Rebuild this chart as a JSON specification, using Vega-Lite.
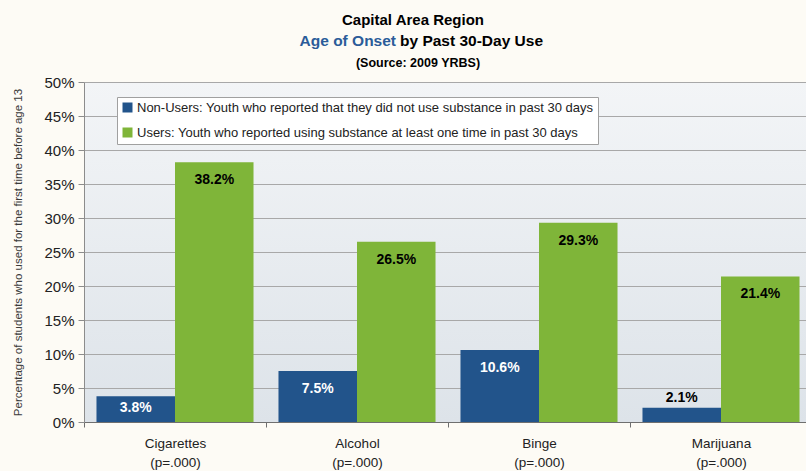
{
  "$schema": "https://vega.github.io/schema/vega-lite/v6.json",
  "width": 728,
  "height": 340,
  "autosize": {"type": "none"},
  "padding": {"left": 84, "top": 82, "right": 0, "bottom": 49},
  "background": "#fdfbf5",
  "config": {
    "font": "Liberation Sans",
    "view": {
      "stroke": null,
      "fill": {"gradient": "linear", "x1": 0, "y1": 0, "x2": 0, "y2": 1,
        "stops": [{"offset": 0, "color": "#f3f5f7"}, {"offset": 1, "color": "#dde3e9"}]}
    }
  },
  "data": {
    "values": [
      {"Substance": "Cigarettes", "Group": "Non-Users: Youth who reported that they did not use substance in past 30 days", "value": 3.8},
      {"Substance": "Cigarettes", "Group": "Users: Youth who reported using substance at least one time in past 30 days", "value": 38.2},
      {"Substance": "Alcohol", "Group": "Non-Users: Youth who reported that they did not use substance in past 30 days", "value": 7.5},
      {"Substance": "Alcohol", "Group": "Users: Youth who reported using substance at least one time in past 30 days", "value": 26.5},
      {"Substance": "Binge", "Group": "Non-Users: Youth who reported that they did not use substance in past 30 days", "value": 10.6},
      {"Substance": "Binge", "Group": "Users: Youth who reported using substance at least one time in past 30 days", "value": 29.3},
      {"Substance": "Marijuana", "Group": "Non-Users: Youth who reported that they did not use substance in past 30 days", "value": 2.1},
      {"Substance": "Marijuana", "Group": "Users: Youth who reported using substance at least one time in past 30 days", "value": 21.4}
    ]
  },
  "transform": [{"calculate": "format(datum.value, '.1f') + '%'", "as": "label"}],
  "encoding": {
    "x": {
      "field": "Substance", "type": "nominal",
      "sort": ["Cigarettes", "Alcohol", "Binge", "Marijuana"],
      "scale": {"paddingInner": 0, "paddingOuter": 0},
      "axis": {
        "title": null, "labelAngle": 0, "tickBand": "extent",
        "domainColor": "#6f6f6f", "tickColor": "#6f6f6f", "tickSize": 5,
        "labelFontSize": 13.5, "labelColor": "#222222",
        "labelPadding": 9, "labelLineHeight": 19,
        "labelExpr": "datum.label ? [datum.label, '(p=.000)'] : ''", "grid": false
      }
    },
    "y": {
      "field": "value", "type": "quantitative",
      "scale": {"domain": [0, 50], "nice": false},
      "axis": {
        "title": "Percentage of students who used for the first time before age 13",
        "titleFontSize": 11.5, "titleFontWeight": "normal", "titleColor": "#3a3a3a",
        "titleAngle": -90, "titleX": -66, "titleY": 170, "titleAlign": "center", "titleBaseline": "middle",
        "values": [0, 5, 10, 15, 20, 25, 30, 35, 40, 45, 50],
        "labelExpr": "datum.value + '%'", "labelFontSize": 15, "labelColor": "#222222",
        "tickSize": 6, "labelPadding": 4,
        "gridColor": "#a8a8a8", "domainColor": "#8c8c8c", "tickColor": "#8c8c8c"
      }
    }
  },
  "layer": [
    {
      "mark": {"type": "bar"},
      "encoding": {
        "xOffset": {"field": "Group", "type": "nominal", "scale": {"paddingInner": 0, "paddingOuter": 0.159}},
        "color": {
          "field": "Group", "type": "nominal",
          "scale": {"range": ["#22548b", "#7fb539"]},
          "legend": {
            "orient": "none", "legendX": 33, "legendY": 15, "title": null,
            "fillColor": "white", "strokeColor": "#a0a0a0", "padding": 4,
            "symbolType": "square", "symbolSize": 100, "symbolStrokeWidth": 0,
            "labelFontSize": 13, "labelColor": "#222222", "rowPadding": 11, "labelLimit": 700,
            "labelOffset": 3, "cornerRadius": 0
          }
        }
      }
    },
    {
      "transform": [{"filter": "datum.value >= 5"}],
      "mark": {"type": "text", "dy": 18, "fontWeight": "bold", "fontSize": 14, "baseline": "middle"},
      "encoding": {
        "xOffset": {"field": "Group", "type": "nominal", "scale": {"paddingInner": 0, "paddingOuter": 0.159}},
        "text": {"field": "label"},
        "color": {"condition": {"test": "indexof(datum.Group, 'Non-Users') === 0", "value": "white"}, "value": "black"}
      }
    },
    {
      "transform": [{"filter": "datum.value > 3 && datum.value < 5"}],
      "mark": {"type": "text", "dy": 12, "fontWeight": "bold", "fontSize": 14, "baseline": "middle", "color": "white"},
      "encoding": {
        "xOffset": {"field": "Group", "type": "nominal", "scale": {"paddingInner": 0, "paddingOuter": 0.159}},
        "text": {"field": "label"}
      }
    },
    {
      "transform": [{"filter": "datum.value <= 3"}],
      "mark": {"type": "text", "dy": -10, "fontWeight": "bold", "fontSize": 14, "baseline": "middle", "color": "black"},
      "encoding": {
        "xOffset": {"field": "Group", "type": "nominal", "scale": {"paddingInner": 0, "paddingOuter": 0.159}},
        "text": {"field": "label"}
      }
    },
    {
      "transform": [{"filter": "datum.value > 38"}],
      "mark": {"type": "text", "clip": false, "fontWeight": "bold", "fontSize": 15, "align": "center", "baseline": "alphabetic", "color": "black", "dx": 56, "text": "Capital Area Region"},
      "encoding": {"x": {"datum": "Alcohol"}, "y": {"datum": 58.4}}
    },
    {
      "transform": [{"filter": "datum.value > 38"}],
      "mark": {"type": "text", "clip": false, "fontWeight": "bold", "fontSize": 15.5, "align": "right", "baseline": "alphabetic", "color": "#2b5c99", "dx": 39, "text": "Age of Onset"},
      "encoding": {"x": {"datum": "Alcohol"}, "y": {"datum": 55.3}}
    },
    {
      "transform": [{"filter": "datum.value > 38"}],
      "mark": {"type": "text", "clip": false, "fontWeight": "bold", "fontSize": 15.5, "align": "left", "baseline": "alphabetic", "color": "black", "dx": 43, "text": "by Past 30-Day Use"},
      "encoding": {"x": {"datum": "Alcohol"}, "y": {"datum": 55.3}}
    },
    {
      "transform": [{"filter": "datum.value > 38"}],
      "mark": {"type": "text", "clip": false, "fontWeight": "bold", "fontSize": 12.5, "align": "center", "baseline": "alphabetic", "color": "black", "dx": 61, "text": "(Source: 2009 YRBS)"},
      "encoding": {"x": {"datum": "Alcohol"}, "y": {"datum": 52.2}}
    }
  ]
}
